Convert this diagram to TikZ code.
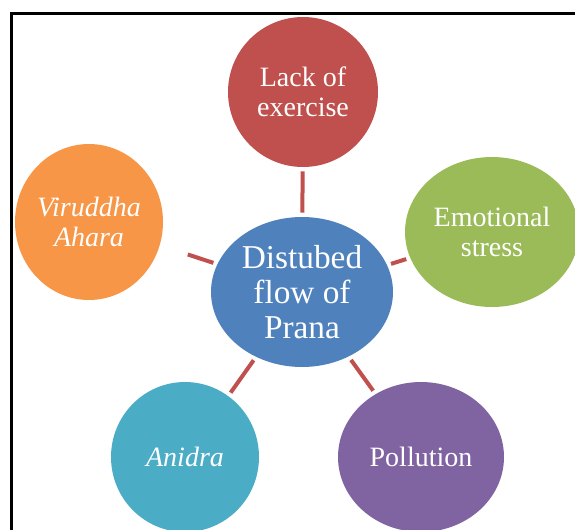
\documentclass[tikz,border=0pt]{standalone}
\usepackage{fontspec}
\setmainfont{Liberation Serif}
\usetikzlibrary{shapes.geometric}
\definecolor{hubblue}{HTML}{4F81BD}
\definecolor{linkred}{HTML}{C0504D}
\definecolor{leafred}{HTML}{C0504D}
\definecolor{leafgreen}{HTML}{9BBB59}
\definecolor{leaforange}{HTML}{F79646}
\definecolor{leafcyan}{HTML}{4BACC6}
\definecolor{leafviolet}{HTML}{8064A2}
\tikzset{bubble/.style={ellipse,inner sep=0pt,text=white,align=center,minimum height=112.5pt,
                font=\fontsize{21}{22.5}\selectfont},
        link/.style={draw=linkred,line width=3pt,shorten <=3pt,shorten >=3pt}}
\begin{document}
\begin{tikzpicture}[x=0.75pt,y=-0.75pt]
                \clip(0,0)rectangle(575,529);
                \draw[line width=2.25pt](11,540)--(11,13)--(590,13);
                % hub and the five causes round it
                \node[bubble,fill=hubblue,minimum width=136.5pt,font=\fontsize{25}{26}\selectfont](prana)at(302,292){Distubed\\flow of\\Prana};
                \node[bubble,fill=leafred,minimum width=112.5pt](exercise)at(303,92){Lack of\\exercise};
                \node[bubble,fill=leafgreen,minimum width=130.5pt](stress)at(492,232){Emotional\\stress};
                \node[bubble,fill=leafviolet,minimum width=124.5pt](pollution)at(421,457){Pollution};
                \node[bubble,fill=leafcyan,minimum width=111pt](anidra)at(185,457){\itshape Anidra};
                \node[bubble,fill=leaforange,minimum width=111pt,minimum height=117pt](ahara)at(89,222){\itshape Viruddha\\\itshape Ahara};
                \foreach \n in {exercise,stress,pollution,anidra}
                \draw[link](prana)--(\n);
                \draw[link,shorten >=22pt](prana)--(ahara);
                \end{tikzpicture}
\end{document}
